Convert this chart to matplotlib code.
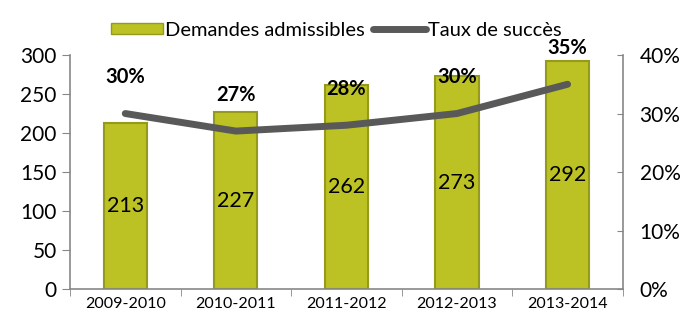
import numpy as np
import matplotlib
matplotlib.use('Agg')
import matplotlib.pyplot as plt
from matplotlib.patches import Patch
from matplotlib.lines import Line2D

plt.rcParams['font.family'] = ['Lato', 'DejaVu Sans']

# data
years = ['2009-2010', '2010-2011', '2011-2012', '2012-2013', '2013-2014']
demandes = [213, 227, 262, 273, 292]
taux = [30, 27, 28, 30, 35]

bar_color = '#BCC224'
bar_edge = '#959A1A'
line_color = '#595959'
axis_color = '#878787'

fig = plt.figure(figsize=(6.86, 3.18), dpi=100)
ax = fig.add_axes([0.102, 0.091, 0.806, 0.736])
x = np.arange(len(years))

bars = ax.bar(x, demandes, width=0.39, color=bar_color, edgecolor=bar_edge, linewidth=1.5, zorder=2)
for xi, v in zip(x, demandes):
    ax.text(xi, v / 2, str(v), ha='center', va='center', fontsize=15.5, zorder=5)

ax.set_xlim(-0.5, len(years) - 0.5)
ax.set_ylim(0, 300)
ax.set_yticks(range(0, 301, 50))
ax.set_xticks(x)
ax.set_xticklabels(years, fontsize=11.5)
ax.set_xticks(np.arange(-0.5, len(years)), minor=True)
ax.tick_params(axis='x', which='major', length=0, pad=6)
ax.tick_params(axis='x', which='minor', length=5, color=axis_color, direction='out')
ax.tick_params(axis='y', labelsize=15, length=6, color=axis_color, direction='out')
for s in ['top', 'right']:
    ax.spines[s].set_visible(False)
ax.spines['left'].set_color(axis_color)
ax.spines['bottom'].set_color(axis_color)
ax.spines['left'].set_linewidth(1.2)
ax.spines['bottom'].set_linewidth(1.2)

ax2 = ax.twinx()
ax2.plot(x, taux, color=line_color, linewidth=5, solid_capstyle='round', solid_joinstyle='round', zorder=3)
for xi, t in zip(x, taux):
    ax2.annotate(f'{t}%', (xi, t), xytext=(0, 26), textcoords='offset points',
                 ha='center', va='center', fontsize=14.5, fontweight='bold', zorder=6)
ax2.set_ylim(0, 40)
ax2.set_yticks(range(0, 41, 10))
ax2.set_yticklabels([f'{v}%' for v in range(0, 41, 10)])
ax2.tick_params(axis='y', labelsize=15, length=4, color=axis_color, direction='in', pad=12)
for s in ['top', 'left', 'bottom']:
    ax2.spines[s].set_visible(False)
ax2.spines['right'].set_color(axis_color)
ax2.spines['right'].set_linewidth(1.2)

handles = [Patch(facecolor=bar_color, edgecolor=bar_edge, label='Demandes admissibles'),
           Line2D([0], [0], color=line_color, linewidth=5, solid_capstyle='round', label='Taux de succès')]
fig.legend(handles=handles, loc='center', bbox_to_anchor=(0.49, 0.905), ncol=2, frameon=False,
           fontsize=14.5, handlelength=2.6, handleheight=0.5, handletextpad=0.1, columnspacing=0.4)

fig.savefig('out.png', dpi=100)
